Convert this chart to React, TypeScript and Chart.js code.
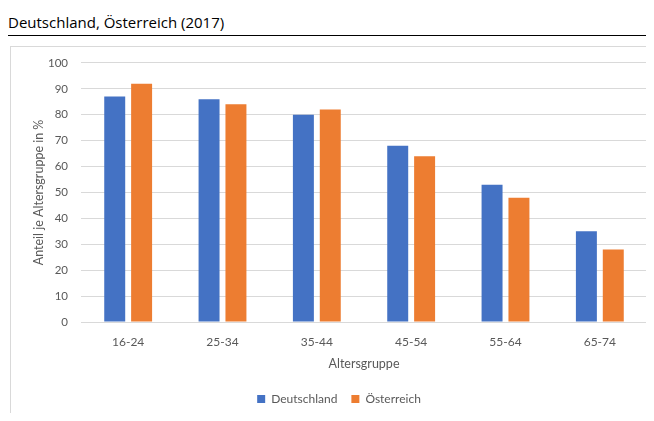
import React, { useEffect, useRef } from "react";
import { Chart, registerables } from "chart.js";

Chart.register(...registerables);

const categories = ["16-24", "25-34", "35-44", "45-54", "55-64", "65-74"];
const deutschland = [87, 86, 80, 68, 53, 35];
const oesterreich = [92, 84, 82, 64, 48, 28];
const seriesNames = ["Deutschland", "Österreich"];
const titleText = "Deutschland, Österreich (2017)";
const yTitle = "Anteil je Altersgruppe in %";
const xTitle = "Altersgruppe";

const TEXT = "#595959";
const FONT = "Lato, 'Open Sans', sans-serif";

export default function App() {
  const ref = useRef<HTMLCanvasElement | null>(null);

  useEffect(() => {
    if (!ref.current) return;
    const chart = new Chart(ref.current, {
      type: "bar",
      data: {
        labels: categories,
        datasets: [
          {
            label: seriesNames[0],
            data: deutschland,
            backgroundColor: "#4472C4",
            categoryPercentage: 0.57,
            barPercentage: 0.78,
          },
          {
            label: seriesNames[1],
            data: oesterreich,
            backgroundColor: "#ED7D31",
            categoryPercentage: 0.57,
            barPercentage: 0.78,
          },
        ],
      },
      options: {
        animation: false,
        responsive: false,
        maintainAspectRatio: false,
        layout: { padding: { top: 0, right: 6, left: 20, bottom: 5 } },
        plugins: {
          legend: {
            position: "bottom",
            labels: {
              boxWidth: 8,
              boxHeight: 8,
              color: TEXT,
              font: { family: FONT, size: 12 },
              padding: 14,
            },
          },
          tooltip: { enabled: false },
        },
        scales: {
          x: {
            grid: { display: false },
            border: { color: "#d9d9d9" },
            ticks: { color: TEXT, font: { family: FONT, size: 12 }, padding: 5 },
            title: {
              display: true,
              text: xTitle,
              color: TEXT,
              font: { family: FONT, size: 12.5 },
              padding: { top: 0, bottom: 8 },
            },
            afterFit: (s: any) => {
              s.height = 57;
            },
          },
          y: {
            min: 0,
            max: 100,
            ticks: { stepSize: 10, color: TEXT, font: { family: FONT, size: 11.5 }, padding: 13 },
            grid: { color: "#d9d9d9", lineWidth: 1, drawTicks: false },
            border: { display: false },
            title: {
              display: true,
              text: yTitle,
              color: TEXT,
              font: { family: FONT, size: 12.5 },
              padding: { top: 0, bottom: 0 },
            },
            afterFit: (s: any) => {
              s.width = 50;
            },
          },
        },
      },
    });
    return () => chart.destroy();
  }, []);

  return (
    <div
      style={{
        position: "relative",
        width: 654,
        height: 421,
        margin: -8,
        background: "#fff",
        overflow: "hidden",
      }}
    >
      <div
        style={{
          position: "absolute",
          left: 8,
          top: 12,
          fontFamily: "'Open Sans', sans-serif",
          fontSize: 15,
          color: "#000",
          whiteSpace: "nowrap",
        }}
      >
        {titleText}
      </div>
      <div
        style={{
          position: "absolute",
          left: 6,
          top: 35,
          width: 648,
          height: 0,
          borderTop: "1.5px solid #000",
        }}
      />
      <div
        style={{
          position: "absolute",
          left: 10,
          top: 46,
          width: 644,
          height: 375,
          boxSizing: "border-box",
          border: "1px solid #d9d9d9",
        }}
      />
      <canvas
        ref={ref}
        width={642}
        height={377}
        style={{ display: "block", position: "absolute", left: 11, top: 43 }}
      />
    </div>
  );
}
